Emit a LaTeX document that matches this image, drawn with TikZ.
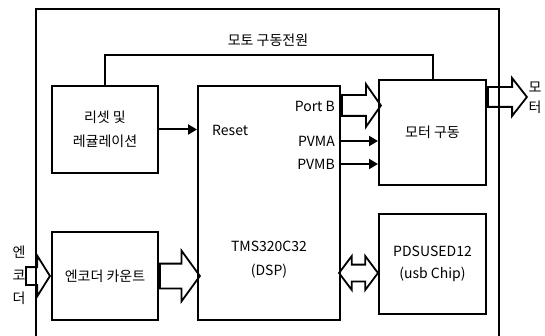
\documentclass[tikz,border=0pt]{standalone}
\usepackage{fontspec}
\setmainfont{Noto Sans CJK KR}
\usepackage{tikz}
\usetikzlibrary{positioning,arrows.meta,calc,shapes.arrows}

\begin{document}
\begin{tikzpicture}[
  x=1pt, y=-1pt,
  font=\fontsize{14}{24}\selectfont,
  box/.style={draw, line width=2pt, align=center, inner sep=2pt},
  frame/.style={draw, line width=2pt},
  txt/.style={align=center, inner sep=1pt},
  arr/.style={-{Triangle[length=9pt,width=10pt]}, line width=2pt},
  wire/.style={line width=2pt},
  hollow/.style={draw, line width=1.8pt, shape=single arrow, minimum width=0pt,
    inner xsep=0pt, single arrow tip angle=110},
  hollow2/.style={draw, line width=1.8pt, shape=double arrow, minimum width=0pt,
    inner xsep=0pt, double arrow tip angle=106}]

\clip (0,0) rectangle (545,336);
\draw[frame] (36,350) |- (499,9) -- (499,350);

\node[box, minimum width=106pt, minimum height=87pt] (reset) at (105,129.5) {리셋 및\\레귤레이션};
\node[box, minimum width=142pt, minimum height=234pt] (dsp) at (269,203) {};
\node[box, minimum width=107pt, minimum height=105pt] (motor) at (432.5,132.5) {모터 구동};
\node[box, minimum width=107pt, minimum height=100pt] (usb) at (432.5,264) {PDSUSED12\\[-2pt](usb Chip)};
\node[box, minimum width=106pt, minimum height=88pt] (enc) at (105,276) {엔코더 카운트};

\node[txt] (power) at (268,40) {모토 구동전원};
\node[txt, anchor=west] (rst) at (211,130) {Reset};
\node[txt, anchor=east] (portb) at (336,106) {Port B};
\node[txt, anchor=east] (pvma) at (336,141) {PVMA};
\node[txt, anchor=east] (pvmb) at (336,164) {PVMB};
\node[txt] (dsplabel) at (269,260) {TMS320C32\\(DSP)};
\node[txt, font=\fontsize{14}{23}\selectfont] (enclabel) at (19,275) {엔\\코\\더};
\node[txt, font=\fontsize{14}{20}\selectfont] (outlabel) at (535,98) {모\\터};

\draw[wire] (reset.north) -- ++(0,-30) -| (motor.north);
\draw[arr] (reset.east) -- (reset.east -| dsp.west);
\draw[arr] (dsp.east |- pvma) -- (motor.west |- pvma);
\draw[arr] (dsp.east |- pvmb) -- (motor.west |- pvmb);

\node[hollow, anchor=tail, minimum height=39pt, inner ysep=9.5pt,
  single arrow head extend=11pt] (portarr) at (dsp.east |- 0,105.5) {};
\node[hollow, anchor=tail, minimum height=39pt, inner ysep=9pt,
  single arrow head extend=9pt, single arrow tip angle=104] (outarr) at ($(motor.north east)+(0,18)$) {};
\node[hollow, anchor=tip, minimum height=24pt, inner ysep=8pt,
  single arrow head extend=11.5pt, single arrow tip angle=116] (encin) at (enc.west) {};
\node[hollow, anchor=tail, minimum height=40pt, inner ysep=11.5pt,
  single arrow head extend=13pt, single arrow tip angle=108] (encarr) at (enc.east) {};
\node[hollow2, minimum height=39pt, inner ysep=7.5pt,
  double arrow head extend=8.5pt] (usbarr) at ($(usb.west)+(-19.5,9)$) {};
\end{tikzpicture}
\end{document}
